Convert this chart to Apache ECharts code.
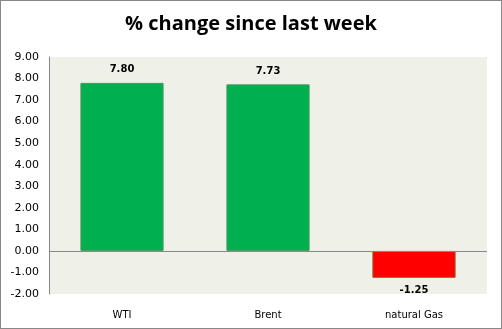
<!DOCTYPE html>
<html><head><meta charset="utf-8">
<script src="https://cdn.jsdelivr.net/npm/echarts@6/dist/echarts.min.js"></script>
<style>html,body{margin:0;padding:0;background:#fff}#c{width:502px;height:329px;box-sizing:border-box;border:1px solid #888}</style>
</head><body><div id="c"></div>
<script>
const categories = ['WTI', 'Brent', 'natural Gas'];
const values = [7.80, 7.73, -1.25];
const titleText = '% change since last week';
const yMin = -2, yMax = 9, yStep = 1;

const chart = echarts.init(document.getElementById('c'));
chart.setOption({
  animation: false,
  title: {text: titleText, left: 'center', top: 8,
    textStyle: {fontFamily: 'Open Sans', fontWeight: 'bold', fontSize: 20, color: '#000'}},
  grid: {left: 48, right: 14, top: 56, bottom: 34, show: true, backgroundColor: '#EFF1E9', borderWidth: 0},
  xAxis: {type: 'category', data: categories, position: 'bottom',
    axisLine: {show: false}, axisTick: {show: false},
    axisLabel: {fontFamily: 'DejaVu Sans', fontSize: 10, color: '#000', margin: 16}},
  yAxis: {type: 'value', min: yMin, max: yMax, interval: yStep,
    axisLine: {show: true, lineStyle: {color: '#888'}}, axisTick: {show: false},
    splitLine: {show: false},
    axisLabel: {fontFamily: 'DejaVu Sans', fontSize: 11, color: '#000', margin: 10,
      formatter: v => v.toFixed(2)}},
  series: [{type: 'bar', barWidth: '57%',
    data: values.map(v => ({value: v, itemStyle: v >= 0
      ? {color: '#00B050', borderColor: '#4E9A5E', borderWidth: 1}
      : {color: '#FF0000', borderColor: '#9C5A2E', borderWidth: 1}})),
    label: {show: true, position: 'outside', distance: 8, fontFamily: 'DejaVu Sans', fontWeight: 'bold', fontSize: 10, color: '#000',
      formatter: p => p.value.toFixed(2)},
    markLine: {silent: true, symbol: 'none', label: {show: false},
      lineStyle: {color: '#888', type: 'solid', width: 1}, data: [{yAxis: 0}]}
  }]
});
</script></body></html>
